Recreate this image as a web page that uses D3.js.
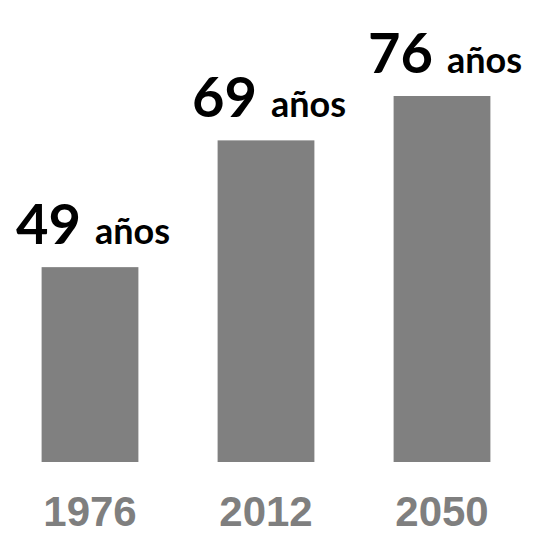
<!DOCTYPE html>
<html>
<head>
<meta charset="utf-8">
<script src="https://cdn.jsdelivr.net/npm/d3@7"></script>
<style>
  body { margin: 0; background: #fff; }
</style>
</head>
<body>
<script>
const years = ["1976", "2012", "2050"];
const ages = [49, 69, 76];
const unit = "años";

const w = 534;
const h = 537;

const svg = d3.select("body")
  .append("svg")
  .attr("width", w)
  .attr("height", h);

const x = d3.scaleBand()
  .domain(years)
  .range([2, 530])
  .paddingInner(0.45)
  .paddingOuter(0.225);

// baseline at 462, not zero based (the original infographic is not to scale)
const y = d3.scaleLinear()
  .domain([18.26, 76])
  .range([462, 96]);

const data = years.map((yr, i) => ({ year: yr, age: ages[i] }));

svg.selectAll("rect")
  .data(data)
  .enter()
  .append("rect")
  .attr("x", d => x(d.year))
  .attr("y", d => y(d.age))
  .attr("width", x.bandwidth())
  .attr("height", d => y(y.domain()[0]) - y(d.age))
  .attr("fill", "#808080");

const lbl = svg.selectAll("text.val")
  .data(data)
  .enter()
  .append("text")
  .attr("class", "val")
  .attr("x", d => x(d.year) + x.bandwidth() / 2 + 3)
  .attr("y", d => y(d.age) - 23)
  .attr("text-anchor", "middle")
  .attr("font-family", "Lato, 'Open Sans', sans-serif")
  .attr("font-weight", 700)
  .attr("fill", "#000");

lbl.append("tspan")
  .attr("font-size", 56)
  .text(d => d.age);

lbl.append("tspan")
  .attr("font-size", 36)
  .attr("dx", 14)
  .text(unit);

svg.selectAll("text.yr")
  .data(data)
  .enter()
  .append("text")
  .attr("class", "yr")
  .attr("x", d => x(d.year) + x.bandwidth() / 2)
  .attr("y", 526)
  .attr("text-anchor", "middle")
  .attr("font-family", "'Liberation Sans', Arial, sans-serif")
  .attr("font-weight", 700)
  .attr("font-size", 42)
  .attr("fill", "#7f7f7f")
  .text(d => d.year);
</script>
</body>
</html>
